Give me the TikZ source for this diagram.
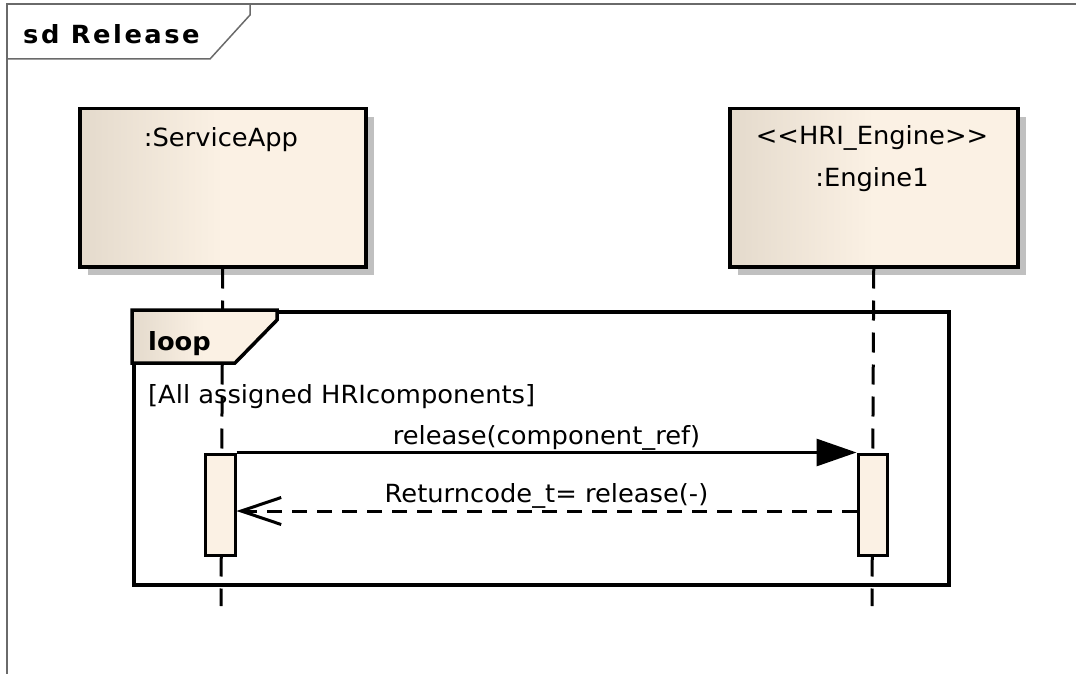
\documentclass[tikz,border=0pt]{standalone}
\usepackage{fontspec}
\setmainfont{DejaVu Sans}[FakeStretch=1.03]
\usetikzlibrary{positioning,arrows.meta,shadows}
\definecolor{boxleft}{HTML}{E4DACC}
\definecolor{boxright}{HTML}{FBF1E4}
\definecolor{shadowgray}{HTML}{C0C0C0}
\definecolor{framegray}{HTML}{6A6A6A}
\newcommand{\msgfont}{\fontsize{25}{30}\selectfont}

\begin{document}
\begin{tikzpicture}[x=1pt,y=-1pt,
    lifebox/.style={draw,line width=3.5pt,anchor=north west,inner sep=0pt,
        minimum height=158pt,left color=boxleft,right color=boxright,middle color=boxright,
        general shadow={fill=shadowgray,shadow xshift=8pt,shadow yshift=-8pt}},
    activation/.style={draw,line width=3pt,fill=boxright,inner sep=0pt,minimum height=101pt},
    lifeline/.style={line width=3pt,dash pattern=on 20pt off 12pt},
    call/.style={line width=3pt,-{Triangle[length=40pt,width=27pt]}},
    reply/.style={line width=3pt,dash pattern=on 15pt off 10pt,-{Straight Barb[length=40pt,width=27pt]}},
    msg/.style={font=\msgfont,inner sep=1pt}]
    \useasboundingbox (0,0) rectangle (1076,674);

    \draw[framegray,line width=1.5pt] (1076,4) -- (7,4) -- (7,674);
    \draw[framegray,line width=1.5pt] (7,59) -- (210,59) -- (250,15) -- (250,4);
    \node[anchor=base west,inner sep=0pt,font=\msgfont\bfseries\addfontfeature{LetterSpace=10}] (sdname) at (23,44) {sd Release};

    \node[lifebox,minimum width=286pt] (app) at (78,107) {};
    \node[lifebox,minimum width=288pt] (engine) at (728,107) {};
    \node[msg] (apptext) at (221,140) {:ServiceApp};
    \node[msg] (stereo) at (872,138) {{<}{<}HRI\_Engine{>}{>}};
    \node[msg] (enginetext) at (872,180) {:Engine1};

    \coordinate (append) at (221,606);
    \coordinate (engineend) at (872,606);
    \draw[lifeline] (app.south) -- (append);
    \draw[lifeline] (engine.south) -- (engineend);

    \node[draw,line width=3.5pt,anchor=north west,minimum width=815pt,minimum height=273pt] (loop) at (132,310) {};
    \draw[line width=3.5pt,left color=boxleft,right color=boxright,middle color=boxright]
        (loop.north west) -- (277,310) -- (277,320) -- (235,363) -- (132,363) -- cycle;
    \node[anchor=base west,inner sep=0pt,font=\msgfont\bfseries] (looptag) at (148,350) {loop};
    \node[anchor=base west,inner sep=0pt,font=\msgfont] (guard) at (148,403) {[All assigned HRIcomponents]};

    \node[activation,minimum width=30pt] (actapp) at (220,504.5) {};
    \node[activation,minimum width=29pt] (actengine) at (872.5,504.5) {};

    \draw[call] (actapp.north east) -- node[msg,above] {release(component\_ref)} (actengine.north west);
    \path (actengine.west) ++(0,6.5) coordinate (retfrom);
    \draw[reply] (retfrom) -- node[msg,above] {Returncode\_t= release(-)} (actapp.east |- retfrom);
\end{tikzpicture}
\end{document}
